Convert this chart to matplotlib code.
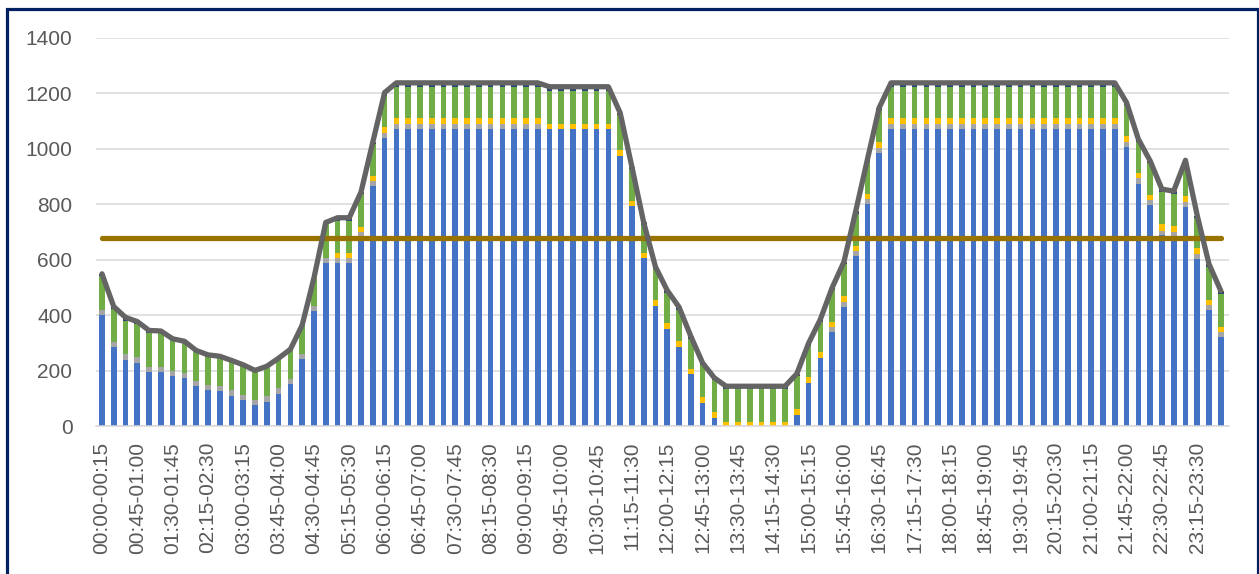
import numpy as np
import matplotlib.pyplot as plt
from matplotlib.patches import Rectangle

# =========================================================
# Data: 96 quarter-hour slots, stacked components
# =========================================================
slots = [f"{(i*15)//60:02d}:{(i*15)%60:02d}-{((i+1)*15)//60 % 24:02d}:{((i+1)*15)%60:02d}"
         for i in range(96)]
slots[-1] = "23:45-24:00"

blue = [403, 285, 241, 230, 196, 196, 181, 174, 145, 131, 127, 110,
        95, 77, 90, 118, 153, 243, 415, 588, 588, 588, 685, 865,
        1038, 1072, 1072, 1072, 1072, 1072, 1072, 1072, 1072, 1072, 1072, 1072,
        1072, 1072, 1072, 1072, 1072, 1072, 1072, 1072, 975, 793, 606, 433,
        352, 288, 190, 84, 30, 0, 0, 0, 0, 0, 0, 42,
        157, 247, 341, 430, 613, 800, 987, 1072, 1072, 1072, 1072, 1072,
        1072, 1072, 1072, 1072, 1072, 1072, 1072, 1072, 1072, 1072, 1072, 1072,
        1072, 1072, 1072, 1007, 875, 797, 690, 683, 792, 604, 420, 323]

gray = [18, 18, 21, 20, 17, 17, 18, 18, 19, 19, 18, 20,
        19, 19, 20, 20, 19, 19, 18, 19, 19, 19, 15, 18,
        18, 18, 18, 18, 18, 18, 18, 18, 18, 18, 18, 18,
        18, 18, 0, 0, 0, 0, 0, 0, 0, 0, 0, 0,
        0, 0, 0, 0, 0, 0, 0, 0, 0, 0, 0, 0,
        0, 0, 18, 19, 19, 18, 18, 18, 18, 18, 18, 18,
        18, 18, 18, 18, 18, 18, 18, 18, 18, 18, 18, 18,
        18, 18, 18, 18, 19, 18, 16, 17, 18, 19, 18, 18]

yellow = [0, 0, 0, 0, 0, 0, 0, 0, 0, 0, 0, 0,
          0, 0, 0, 0, 0, 0, 0, 0, 18, 18, 17, 20,
          22, 20, 20, 20, 20, 20, 20, 20, 20, 20, 20, 20,
          20, 20, 18, 18, 18, 18, 18, 18, 21, 18, 19, 21,
          20, 19, 18, 22, 21, 16, 16, 16, 16, 16, 16, 21,
          21, 21, 18, 20, 20, 21, 20, 20, 20, 20, 20, 20,
          20, 20, 20, 20, 20, 20, 20, 20, 20, 20, 20, 20,
          20, 20, 20, 21, 21, 19, 22, 22, 20, 19, 18, 19]

green = [122, 119, 119, 119, 123, 123, 114, 112, 110, 108, 108, 108,
         108, 106, 107, 108, 106, 103, 102, 122, 115, 115, 119, 113,
         113, 114, 114, 114, 114, 114, 114, 114, 114, 114, 114, 114,
         114, 114, 120, 120, 120, 120, 120, 120, 125, 115, 101, 112,
         109, 114, 108, 114, 115, 119, 119, 119, 119, 119, 119, 118,
         113, 109, 114, 115, 114, 115, 115, 114, 114, 114, 114, 114,
         114, 114, 114, 114, 114, 114, 114, 114, 114, 114, 114, 114,
         114, 114, 114, 112, 111, 114, 118, 117, 120, 109, 118, 118]

navy = [7, 7, 7, 6, 6, 6, 3, 3, 0, 0, 0, 0,
        0, 0, 0, 0, 0, 0, 0, 6, 8, 8, 6, 6,
        8, 9, 9, 9, 9, 9, 9, 9, 9, 9, 9, 9,
        9, 9, 9, 9, 9, 9, 9, 9, 6, 6, 6, 6,
        6, 6, 6, 6, 6, 6, 6, 6, 6, 6, 6, 6,
        6, 6, 6, 6, 6, 6, 6, 9, 9, 9, 9, 9,
        9, 9, 9, 9, 9, 9, 9, 9, 9, 9, 9, 9,
        9, 9, 9, 6, 6, 6, 6, 6, 6, 6, 8, 8]

brown = [0, 3, 5, 3, 4, 2, 0, 0, 0, 0, 0, 0,
         0, 0, 0, 0, 0, 0, 0, 0, 4, 4, 3, 3,
         4, 5, 5, 5, 5, 5, 5, 5, 5, 5, 5, 5,
         5, 5, 5, 5, 5, 5, 5, 5, 3, 3, 3, 3,
         3, 3, 3, 3, 3, 4, 4, 4, 4, 4, 4, 3,
         3, 3, 3, 3, 3, 3, 3, 5, 5, 5, 5, 5,
         5, 5, 5, 5, 5, 5, 5, 5, 5, 5, 5, 5,
         5, 5, 5, 3, 3, 3, 3, 3, 3, 3, 3, 3]

limit = 680
y_ticks = [0, 200, 400, 600, 800, 1000, 1200, 1400]

# =========================================================
# Figure
# =========================================================
plt.rcParams['font.family'] = ['Liberation Sans', 'DejaVu Sans']

fig = plt.figure(figsize=(12.59, 5.74), dpi=100)
ax = fig.add_axes([0.0763, 0.257, 0.8999, 0.677])

x = np.arange(len(blue))
series = [(blue, '#4472C4'), (gray, '#A5A5A5'), (yellow, '#FFC000'),
          (green, '#70AD47'), (navy, '#264478'), (brown, '#9E480E')]
bottom = np.zeros(len(x))
for vals, col in series:
    ax.bar(x, vals, width=0.48, bottom=bottom, color=col, zorder=2)
    bottom += np.array(vals)

ax.plot(x, np.full(len(x), limit), color='#997300', lw=3.8,
        solid_capstyle='round', zorder=3)
ax.plot(x, bottom, color='#646464', lw=3.8, solid_joinstyle='round',
        solid_capstyle='round', zorder=4)

ax.set_xlim(-0.5, len(x) - 0.5 + 0.2)
ax.set_ylim(0, 1400)
ax.set_yticks(y_ticks)
ax.set_xticks(x[::3])
ax.set_xticklabels(slots[::3], rotation=90)
ax.tick_params(axis='x', length=0, pad=11, labelsize=15, colors='#595959')
ax.tick_params(axis='y', length=0, pad=17, labelsize=15, colors='#595959')
ax.grid(axis='y', color='#D9D9D9', lw=1.1, zorder=0)
for s in ['top', 'right', 'left']:
    ax.spines[s].set_visible(False)
ax.spines['bottom'].set_color('#D9D9D9')
ax.spines['bottom'].set_linewidth(1.1)

# dark blue frame (bottom edge falls outside the picture)
fig.patches.append(Rectangle((7 / 1259, -0.05), 1250.5 / 1259, 1.035,
                             transform=fig.transFigure, fill=False,
                             edgecolor='#002060', lw=2.3))

fig.savefig('out.png', dpi=100)
